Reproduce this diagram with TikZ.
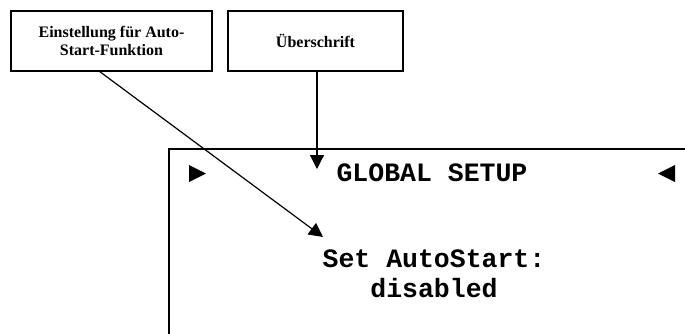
\documentclass[tikz,border=0pt]{standalone}
\usepackage{fontspec}
\setmainfont{Liberation Serif}
\newfontfamily\lcdfont{Liberation Mono}
\usetikzlibrary{arrows.meta}
\begin{document}
\begin{tikzpicture}[x=1pt,y=-1pt,
  labelbox/.style={draw, line width=1.6pt, minimum width=#1, minimum height=60pt, inner sep=0pt, align=center, font=\fontsize{16}{17.5}\selectfont\bfseries},
  lcd/.style={font=\lcdfont\fontsize{26.5}{30}\selectfont\bfseries, inner sep=0pt, anchor=base},
  pointer/.style={-{Triangle[length=14pt,width=14pt]}, line width=1.2pt},
  marker/.style={fill=black}]
\useasboundingbox (0,0) rectangle (685,333);
\clip (0,0) rectangle (685,333);
\node[labelbox=201pt] (box1) at (111.5,41) {Einstellung für Auto-\\Start-Funktion};
\node[labelbox=175pt] (box2) at (315.5,41) {Überschrift};
\node[draw, line width=1.5pt, minimum width=540pt, minimum height=220pt, inner sep=0pt, anchor=north west] (display) at (168,148) {};
\node[lcd] (title) at (432,181) {GLOBAL SETUP};
\node[lcd] (msg1) at (434,267) {Set AutoStart:};
\node[lcd] (msg2) at (434,297) {disabled};
\fill[marker] (189,165) -- (206,173.5) -- (189,182) -- cycle;
\fill[marker] (675,165) -- (658,173.5) -- (675,182) -- cycle;
\coordinate (tip1) at (323,237);
\coordinate (tip2) at (317,169);
\draw[pointer] ([xshift=-11.5pt]box1.south) -- (tip1);
\draw[pointer] ([xshift=1.5pt]box2.south) -- (tip2);
\end{tikzpicture}
\end{document}
